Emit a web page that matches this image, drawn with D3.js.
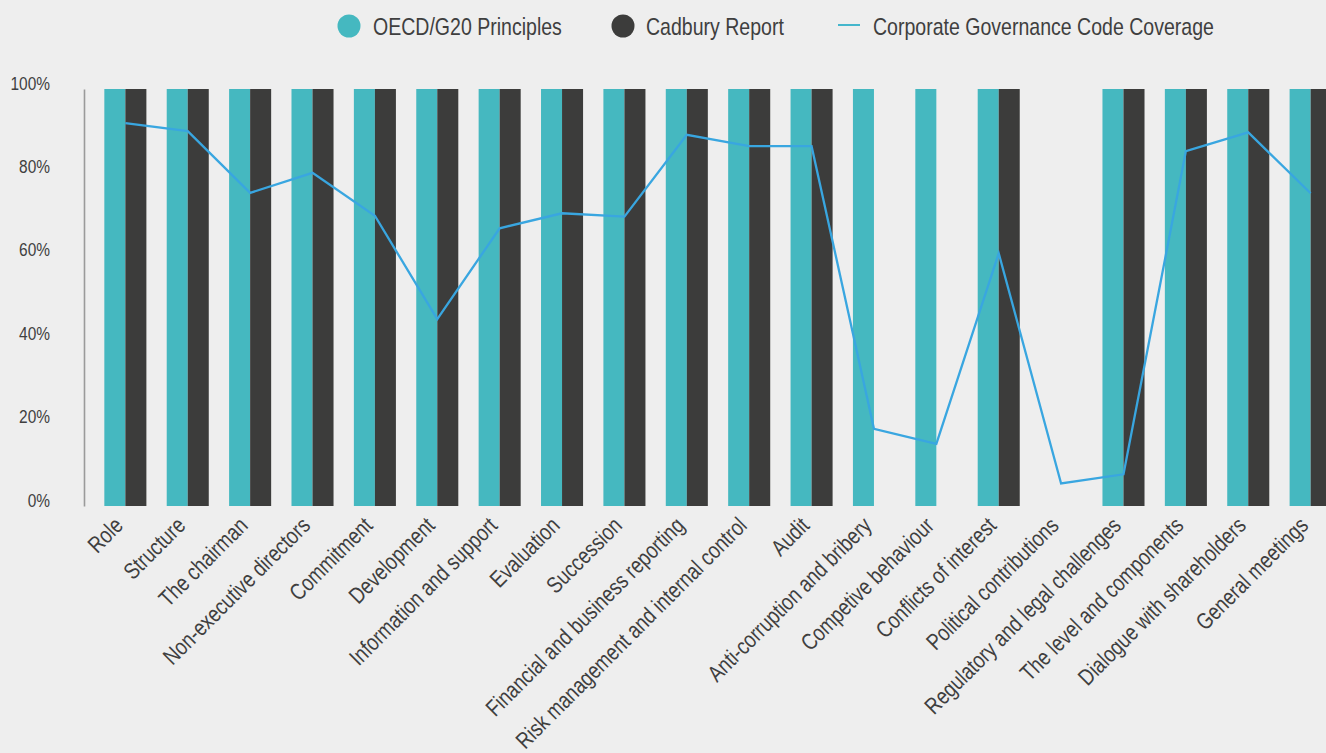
<!DOCTYPE html>
<html>
<head>
<meta charset="utf-8">
<script src="https://cdn.jsdelivr.net/npm/d3@7"></script>
<style>
  html, body { margin: 0; padding: 0; background: #eeeeee; overflow: hidden; }
  svg { display: block; }
  text { font-family: "Liberation Sans", "Roboto", sans-serif; }
</style>
</head>
<body>
<svg id="chart" width="1326" height="753"></svg>
<script>
// ---- Data ----
const categories = [
  "Role", "Structure", "The chairman", "Non-executive directors", "Commitment",
  "Development", "Information and support", "Evaluation", "Succession",
  "Financial and business reporting", "Risk management and internal control",
  "Audit", "Anti-corruption and bribery", "Competive behaviour",
  "Conflicts of interest", "Political contributions",
  "Regulatory and legal challenges", "The level and components",
  "Dialogue with shareholders", "General meetings"
];
const oecdValues = [100,100,100,100,100,100,100,100,100,100,100,100,100,100,100,0,100,100,100,100];
const cadburyValues = [100,100,100,100,100,100,100,100,100,100,100,100,0,0,100,0,100,100,100,100];
const coverageValues = [91.8, 89.9, 75.1, 79.9, 69.6, 44.8, 66.6, 70.2, 69.4, 89.0,
                        86.3, 86.3, 18.5, 14.9, 60.6, 5.4, 7.6, 85.1, 89.6, 75.0];
const yTicks = [0, 20, 40, 60, 80, 100];
const seriesNames = ["OECD/G20 Principles", "Cadbury Report", "Corporate Governance Code Coverage"];
const colors = { oecd: "#45b8c0", cadbury: "#3c3c3b", line: "#39a6e0", lineLegend: "#44b6cc" };

// ---- Layout ----
const svg = d3.select("#chart");
const plotLeft = 84, plotRight = 1352, plotTop = 89, plotBottom = 506;
const narrow = 0.814; // horizontal compression to mimic a condensed face

const x = d3.scaleBand().domain(categories).range([plotLeft, plotRight])
  .paddingInner(0.326).paddingOuter(0.326);
const x1 = d3.scaleBand().domain(["oecd", "cadbury"]).range([0, x.bandwidth()]);
const y = d3.scaleLinear().domain([0, 100]).range([plotBottom, plotTop]);

// Y axis
const yAxis = d3.axisLeft(y).tickValues(yTicks).tickFormat(d => d + "%").tickSize(0).tickPadding(34);
const gy = svg.append("g").attr("transform", `translate(${plotLeft},0)`).call(yAxis);
gy.select(".domain").attr("stroke", "#9a9a9a").attr("stroke-width", 1.6);
gy.selectAll(".tick text")
  .attr("fill", "#3f3f3f").attr("font-size", 19)
  .attr("x", -34 / narrow).attr("dy", "0.0em")
  .attr("transform", `scale(${narrow},1)`);

// Bars
const rows = categories.map((c, i) => ({ c, oecd: oecdValues[i], cadbury: cadburyValues[i], cov: coverageValues[i] }));
const groups = svg.append("g").selectAll("g").data(rows).join("g")
  .attr("transform", d => `translate(${x(d.c)},0)`);
groups.append("rect")
  .attr("x", x1("oecd")).attr("width", x1.bandwidth())
  .attr("y", d => y(d.oecd)).attr("height", d => y(0) - y(d.oecd))
  .attr("fill", colors.oecd);
groups.append("rect")
  .attr("x", x1("cadbury")).attr("width", x1.bandwidth())
  .attr("y", d => y(d.cadbury)).attr("height", d => y(0) - y(d.cadbury))
  .attr("fill", colors.cadbury);

// Line
const line = d3.line().x(d => x(d.c) + x.bandwidth() / 2).y(d => y(d.cov));
svg.append("path").datum(rows).attr("d", line)
  .attr("fill", "none").attr("stroke", colors.line).attr("stroke-width", 2.3)
  .attr("stroke-linejoin", "miter");

// X axis labels
const xAxis = d3.axisBottom(x).tickSize(0).tickPadding(0);
const gx = svg.append("g").attr("transform", `translate(0,${plotBottom})`).call(xAxis);
gx.select(".domain").remove();
gx.selectAll(".tick text")
  .attr("fill", "#3f3f3f").attr("font-size", 23)
  .attr("text-anchor", "end")
  .attr("x", 0).attr("y", 0).attr("dy", 0)
  .attr("transform", `translate(-1,21) rotate(-45) scale(${narrow},1)`);

// Legend
const legend = svg.append("g");
const items = [
  { name: seriesNames[0], type: "circle", color: colors.oecd, cx: 349, tx: 373 },
  { name: seriesNames[1], type: "circle", color: colors.cadbury, cx: 623, tx: 646 },
  { name: seriesNames[2], type: "line", color: colors.lineLegend, cx: 849, tx: 873 }
];
items.forEach(it => {
  if (it.type === "circle") {
    legend.append("circle").attr("cx", it.cx).attr("cy", 26).attr("r", 11.5).attr("fill", it.color);
  } else {
    legend.append("line").attr("x1", it.cx - 11).attr("x2", it.cx + 11)
      .attr("y1", 25).attr("y2", 25).attr("stroke", it.color).attr("stroke-width", 2);
  }
  legend.append("text")
    .attr("transform", `translate(${it.tx},35) scale(${narrow},1)`)
    .attr("font-size", 24).attr("fill", "#3f3f3f").text(it.name);
});
</script>
</body>
</html>
